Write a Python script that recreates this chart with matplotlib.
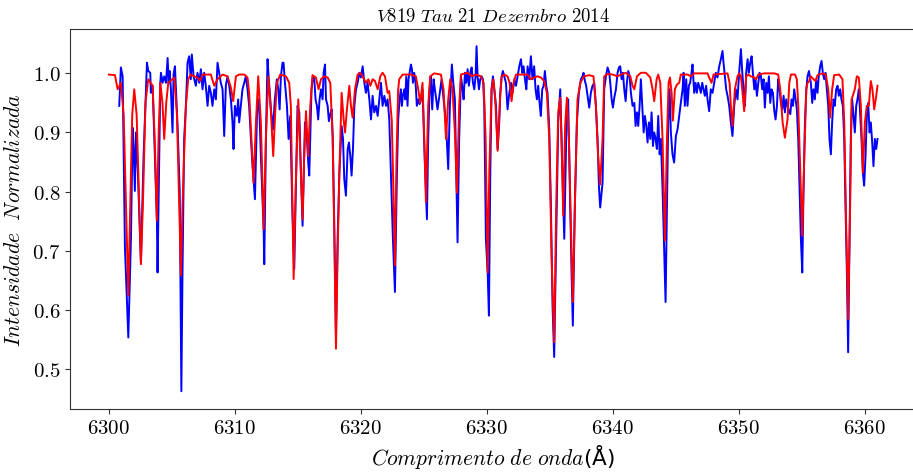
import matplotlib.pyplot as plt

# Espectro observado (azul)
obs_wl = [
    6300.82, 6300.95, 6301.09, 6301.27, 6301.54, 6301.75, 6301.88, 6301.96, 6302.06, 6302.14,
    6302.30, 6302.54, 6302.75, 6302.94, 6303.02, 6303.12, 6303.28, 6303.33, 6303.47, 6303.81,
    6303.86, 6304.08, 6304.13, 6304.26, 6304.39, 6304.53, 6304.66, 6304.74, 6304.82, 6304.92,
    6305.05, 6305.13, 6305.24, 6305.45, 6305.62, 6305.75, 6305.84, 6305.97, 6306.11, 6306.24,
    6306.37, 6306.50, 6306.58, 6306.72, 6306.90, 6307.03, 6307.17, 6307.30, 6307.43, 6307.56,
    6307.69, 6307.83, 6307.96, 6308.09, 6308.22, 6308.36, 6308.49, 6308.62, 6308.75, 6308.88,
    6309.02, 6309.15, 6309.28, 6309.41, 6309.55, 6309.68, 6309.81, 6309.89, 6310.00, 6310.15,
    6310.26, 6310.34, 6310.47, 6310.60, 6310.74, 6310.87, 6311.00, 6311.13,
    6311.27, 6311.40, 6311.59, 6311.75, 6311.85, 6311.93, 6312.06, 6312.28, 6312.33, 6312.46,
    6312.59, 6312.67, 6312.75, 6312.86, 6313.02, 6313.17, 6313.33, 6313.44, 6313.55, 6313.65,
    6313.78, 6313.86, 6313.97, 6314.13, 6314.26, 6314.39, 6314.55, 6314.71, 6314.97, 6315.11,
    6315.24, 6315.37, 6315.56, 6315.69, 6315.82, 6315.90, 6316.08, 6316.19, 6316.30, 6316.40,
    6316.51, 6316.61, 6316.72,
    6316.83, 6316.96, 6317.04, 6317.15, 6317.23, 6317.36, 6317.46, 6317.57, 6317.68, 6317.76,
    6317.89, 6318.02, 6318.15, 6318.29, 6318.47, 6318.58, 6318.68, 6318.81, 6318.95, 6319.05,
    6319.16, 6319.26, 6319.37, 6319.48, 6319.61, 6319.74, 6319.87, 6320.00, 6320.14, 6320.27,
    6320.40, 6320.53, 6320.67, 6320.80, 6320.93, 6321.06, 6321.20, 6321.33, 6321.46, 6321.59,
    6321.72, 6321.86, 6321.99, 6322.12, 6322.25,
    6322.38, 6322.54, 6322.70, 6322.86, 6322.96, 6323.07, 6323.17, 6323.25, 6323.33, 6323.44,
    6323.52, 6323.60, 6323.70, 6323.78, 6323.86, 6323.97, 6324.05, 6324.13, 6324.23, 6324.34,
    6324.44, 6324.55, 6324.66, 6324.76, 6324.89, 6325.03, 6325.24, 6325.34, 6325.45, 6325.55,
    6325.66, 6325.77, 6325.87, 6325.98, 6326.08, 6326.19, 6326.30, 6326.40, 6326.56, 6326.75,
    6326.93, 6327.06, 6327.22, 6327.33, 6327.46, 6327.57, 6327.67, 6327.80,
    6327.94, 6328.07, 6328.15, 6328.26, 6328.36, 6328.47, 6328.57, 6328.68, 6328.79, 6328.89,
    6329.00, 6329.10, 6329.18, 6329.26, 6329.37, 6329.47, 6329.58, 6329.69, 6329.79, 6329.92,
    6330.06, 6330.16, 6330.27, 6330.37, 6330.48, 6330.59, 6330.72, 6330.85, 6330.98, 6331.06,
    6331.17, 6331.27, 6331.38, 6331.51, 6331.64, 6331.78, 6331.91, 6332.04, 6332.17, 6332.31,
    6332.44, 6332.57, 6332.70, 6332.81, 6332.91, 6333.02, 6333.13, 6333.23, 6333.36,
    6333.49, 6333.62, 6333.75, 6333.86, 6333.97, 6334.07, 6334.18, 6334.28, 6334.39, 6334.50,
    6334.60, 6334.71, 6334.81, 6334.95, 6335.08, 6335.21, 6335.34, 6335.50, 6335.66, 6335.82,
    6335.92, 6336.03, 6336.14, 6336.24, 6336.35, 6336.45, 6336.61, 6336.72, 6336.82, 6336.98,
    6337.14, 6337.30, 6337.46, 6337.59, 6337.67, 6337.78, 6337.88, 6337.99, 6338.12, 6338.25,
    6338.38, 6338.52, 6338.65, 6338.78, 6338.89, 6338.99,
    6339.18, 6339.31, 6339.45, 6339.58, 6339.71, 6339.79, 6339.90, 6340.00, 6340.11, 6340.24,
    6340.37, 6340.48, 6340.58, 6340.69, 6340.80, 6340.90, 6341.01, 6341.11, 6341.22, 6341.33,
    6341.43, 6341.56, 6341.70, 6341.80, 6341.91, 6342.01, 6342.12, 6342.22, 6342.33, 6342.44,
    6342.54, 6342.65, 6342.75, 6342.86, 6342.97, 6343.07, 6343.18, 6343.28, 6343.39, 6343.49,
    6343.60, 6343.71, 6343.81, 6343.94, 6344.08, 6344.18, 6344.29, 6344.39, 6344.50,
    6344.60, 6344.73, 6344.86, 6345.00, 6345.13, 6345.26, 6345.39, 6345.53, 6345.61, 6345.71,
    6345.82, 6345.92, 6346.03, 6346.13, 6346.24, 6346.32, 6346.45, 6346.56, 6346.66, 6346.77,
    6346.88, 6346.98, 6347.09, 6347.19, 6347.30, 6347.40, 6347.51, 6347.64, 6347.77, 6347.91,
    6348.04, 6348.17, 6348.30, 6348.44, 6348.57, 6348.70, 6348.78, 6348.89, 6348.99, 6349.10,
    6349.23, 6349.36, 6349.49, 6349.63, 6349.76, 6349.89, 6350.02,
    6350.16, 6350.27, 6350.37, 6350.48, 6350.58, 6350.69, 6350.79, 6350.90, 6351.01, 6351.11,
    6351.22, 6351.32, 6351.43, 6351.54, 6351.64, 6351.75, 6351.85, 6351.96, 6352.06, 6352.17,
    6352.28, 6352.38, 6352.49, 6352.59, 6352.70, 6352.81, 6352.91, 6353.02, 6353.12, 6353.23,
    6353.33, 6353.44, 6353.55, 6353.65, 6353.76, 6353.86, 6353.97, 6354.08, 6354.18, 6354.29,
    6354.39, 6354.50, 6354.60, 6354.71, 6354.82, 6354.92, 6355.03, 6355.13, 6355.24, 6355.35,
    6355.45, 6355.56,
    6355.71, 6355.82, 6355.92, 6356.03, 6356.13, 6356.24, 6356.34, 6356.45, 6356.56, 6356.66,
    6356.77, 6356.87, 6356.98, 6357.09, 6357.19, 6357.30, 6357.40, 6357.51, 6357.61, 6357.72,
    6357.83, 6357.93, 6358.04, 6358.14, 6358.25, 6358.36, 6358.46, 6358.57, 6358.67, 6358.78,
    6358.88, 6358.99, 6359.10, 6359.20, 6359.31, 6359.41, 6359.52, 6359.63, 6359.73, 6359.84,
    6359.94, 6360.05, 6360.15, 6360.26, 6360.37, 6360.47, 6360.58, 6360.68, 6360.79, 6360.90,
    6361.00,
]
obs_flux = [
    0.945, 1.010, 0.995, 0.706, 0.553, 0.720, 0.908, 0.872, 0.801, 0.900,
    0.830, 0.680, 0.860, 0.973, 1.018, 1.004, 1.001, 0.967, 0.979, 0.751,
    0.663, 0.984, 1.001, 0.984, 0.995, 0.984, 1.026, 0.984, 1.004, 0.973,
    0.900, 0.998, 1.012, 0.911, 0.800, 0.462, 0.663, 0.889, 0.945, 1.018,
    1.029, 0.990, 1.032, 0.995, 0.979, 1.001, 0.984, 1.007, 0.973, 1.001,
    0.979, 0.945, 0.979, 0.967, 0.945, 0.973, 0.956, 1.018, 1.001, 0.984,
    0.973, 0.894, 0.979, 0.995, 0.979, 0.956, 0.917, 0.872, 0.945, 0.928,
    0.956, 0.917, 0.945, 0.973, 0.984, 0.995, 0.973, 0.945,
    0.889, 0.843, 0.787, 0.928, 0.956, 0.945, 0.860, 0.736, 0.677, 0.889,
    1.024, 0.995, 0.973, 0.939, 0.905, 0.956, 0.990, 0.973, 0.939, 0.995,
    1.018, 1.018, 0.984, 0.945, 0.889, 0.928, 0.776, 0.669, 0.945, 0.934,
    0.832, 0.742, 0.917, 0.900, 0.849, 0.827, 0.973, 0.995, 0.990, 0.956,
    0.945, 0.922, 0.956,
    0.973, 0.956, 1.001, 1.015, 0.956, 0.945, 0.919, 0.931, 0.939, 0.894,
    0.742, 0.555, 0.720, 0.832, 0.911, 0.889, 0.821, 0.793, 0.872, 0.883,
    0.860, 0.827, 0.872, 0.945, 0.973, 0.984, 1.001, 0.993, 1.012, 0.984,
    0.967, 0.984, 0.956, 0.922, 0.962, 0.934, 0.945, 0.928, 0.956, 0.984,
    0.945, 0.962, 0.945, 0.956, 0.922,
    0.832, 0.720, 0.630, 0.832, 0.922, 0.956, 0.973, 0.945, 0.962, 0.973,
    0.956, 0.995, 0.945, 0.990, 1.001, 1.015, 1.007, 0.984, 1.001, 0.984,
    0.945, 0.956, 0.948, 0.956, 0.973, 0.877, 0.753, 0.889, 0.973, 0.995,
    0.939, 0.990, 0.973, 0.956, 0.939, 0.956, 0.973, 0.990, 0.956, 0.917,
    0.838, 0.945, 1.015, 0.984, 0.956, 0.832, 0.714, 0.889,
    0.995, 0.973, 0.956, 1.001, 0.984, 1.007, 0.979, 1.001, 1.010, 0.984,
    0.973, 0.995, 1.046, 0.995, 0.973, 0.990, 0.995, 0.990, 0.945, 0.720,
    0.663, 0.590, 0.832, 0.973, 0.995, 0.973, 0.945, 0.872, 0.917, 0.967,
    0.995, 1.004, 0.995, 0.984, 0.939, 0.967, 0.984, 0.967, 0.990, 0.979,
    0.995, 1.012, 1.024, 1.001, 1.012, 0.990, 0.973, 1.012, 0.990,
    1.029, 0.990, 1.012, 0.973, 0.956, 0.979, 0.950, 0.928, 0.973, 0.979,
    1.004, 0.979, 0.967, 0.905, 0.776, 0.607, 0.520, 0.720, 0.917, 0.973,
    0.889, 0.804, 0.720, 0.832, 0.945, 0.956, 0.776, 0.663, 0.573, 0.776,
    0.917, 0.967, 0.990, 0.995, 1.001, 0.987, 0.979, 0.962, 0.942, 0.967,
    0.979, 0.984, 0.945, 0.889, 0.810, 0.773,
    0.815, 0.973, 0.995, 1.010, 1.001, 0.984, 0.956, 0.942, 0.959, 0.973,
    1.001, 1.010, 1.012, 0.990, 1.001, 0.973, 0.953, 0.984, 1.004, 0.995,
    0.967, 0.945, 0.950, 0.911, 0.934, 0.911, 0.945, 0.990, 0.945, 0.900,
    0.928, 0.911, 0.883, 0.917, 0.889, 0.934, 0.877, 0.900, 0.889, 0.872,
    0.928, 0.863, 0.889, 0.804, 0.691, 0.613, 0.776, 0.917, 0.973,
    0.900, 0.863, 0.849, 0.894, 0.905, 0.928, 0.950, 0.973, 1.001, 0.945,
    0.990, 0.945, 0.979, 0.984, 1.001, 1.015, 0.967, 0.984, 0.967, 0.984,
    0.976, 0.967, 0.984, 0.973, 0.962, 0.979, 0.956, 0.936, 0.973, 0.967,
    0.984, 1.001, 0.993, 1.012, 1.024, 1.038, 1.018, 0.995, 0.973, 0.962,
    0.945, 0.917, 0.894, 0.945, 0.973, 0.956, 1.001,
    1.041, 1.001, 0.973, 0.945, 1.001, 1.024, 1.001, 1.018, 1.029, 1.001,
    0.973, 0.990, 0.962, 0.984, 1.001, 0.995, 0.973, 0.990, 0.942, 0.984,
    0.967, 0.995, 0.950, 0.973, 0.967, 0.936, 0.922, 0.945, 0.990, 0.973,
    0.950, 0.939, 0.962, 0.934, 0.956, 0.945, 0.936, 0.931, 0.956, 0.945,
    0.973, 0.956, 0.939, 0.889, 0.804, 0.720, 0.663, 0.804, 0.917, 0.973,
    0.995, 1.004,
    0.984, 0.950, 0.973, 0.956, 0.990, 0.967, 0.995, 1.012, 1.021, 1.001,
    0.990, 1.001, 0.973, 0.945, 0.889, 0.863, 0.917, 0.956, 0.945, 0.973,
    0.979, 0.962, 0.973, 0.956, 0.945, 0.889, 0.776, 0.663, 0.528, 0.720,
    0.889, 0.956, 0.928, 0.900, 0.945, 0.956, 0.973, 0.928, 0.889, 0.832,
    0.810, 0.860, 0.928, 0.950, 0.900, 0.917, 0.883, 0.843, 0.889, 0.872,
    0.889,
]

# Espectro sintético (vermelho)
syn_wl = [
    6300.00, 6300.48, 6300.69, 6300.95, 6301.17, 6301.35, 6301.54, 6301.70, 6301.85, 6302.01,
    6302.20, 6302.40, 6302.54, 6302.70, 6302.90, 6303.12, 6303.47, 6303.65, 6303.80, 6303.95,
    6304.08, 6304.25, 6304.39, 6304.55, 6304.71, 6305.19, 6305.40, 6305.58, 6305.72, 6305.84,
    6305.97, 6306.11, 6306.29, 6306.50, 6306.77, 6307.03, 6307.24, 6307.43, 6308.09, 6308.36,
    6308.62, 6309.02, 6309.41, 6309.68, 6309.86, 6310.08, 6310.34, 6310.74, 6311.00, 6311.13,
    6311.27, 6311.48, 6311.67, 6311.85, 6312.06, 6312.28, 6312.46, 6312.65, 6312.86, 6313.04,
    6313.20, 6313.33, 6313.60, 6314.05, 6314.31, 6314.44, 6314.55, 6314.66, 6314.82, 6315.03,
    6315.19, 6315.37, 6315.50, 6315.64, 6315.82, 6315.98, 6316.16, 6316.43, 6316.64,
    6316.83, 6317.09, 6317.36, 6317.57, 6317.76, 6317.89, 6318.02, 6318.15, 6318.29, 6318.47,
    6318.63, 6318.74, 6318.89, 6319.08, 6319.21, 6319.34, 6319.53, 6319.74, 6319.95, 6320.14,
    6320.40, 6320.59, 6320.75, 6320.93, 6321.12, 6321.33, 6321.54, 6321.72, 6321.91, 6322.12,
    6322.25, 6322.45, 6322.58, 6322.70, 6322.82, 6322.95, 6323.04, 6323.31, 6323.97, 6324.36,
    6324.55, 6324.71, 6324.89, 6325.03, 6325.16, 6325.34, 6325.50, 6325.82, 6326.35, 6326.56,
    6326.75, 6326.93, 6327.09, 6327.27, 6327.46, 6327.62, 6327.80,
    6327.94, 6328.47, 6328.79, 6329.13, 6329.53, 6329.74, 6329.90, 6330.06, 6330.19, 6330.37,
    6330.51, 6330.66, 6330.85, 6331.04, 6331.17, 6331.38, 6331.64, 6331.80, 6331.96, 6332.12,
    6332.31, 6333.23, 6333.49, 6333.75, 6334.02, 6334.28, 6334.55, 6334.76, 6334.95, 6335.13,
    6335.34, 6335.50, 6335.66, 6335.82, 6335.92, 6336.06, 6336.21, 6336.35, 6336.51, 6336.66,
    6336.82, 6337.01, 6337.19, 6337.41, 6337.72, 6338.12, 6338.46, 6338.65, 6338.83, 6338.99,
    6339.18, 6339.31, 6339.58, 6339.98, 6340.37, 6340.64, 6341.03, 6341.38, 6341.56, 6341.70,
    6341.91, 6342.22, 6342.62, 6342.97, 6343.15, 6343.28, 6343.47, 6343.60, 6343.76, 6343.94,
    6344.13, 6344.29, 6344.42, 6344.53, 6344.66, 6344.76, 6344.92, 6345.08, 6345.26, 6345.39,
    6345.92, 6346.19, 6346.45, 6347.51, 6347.64, 6347.83, 6347.99, 6349.10, 6349.26, 6349.36,
    6349.49, 6349.68, 6349.89, 6350.02, 6350.16, 6350.29, 6350.42, 6350.58, 6350.74, 6350.95,
    6351.22, 6351.35, 6351.54, 6352.01, 6352.81, 6353.12, 6353.28, 6353.47, 6353.65, 6353.86,
    6354.00, 6354.13, 6354.45, 6354.60, 6354.71, 6354.87, 6355.03, 6355.19, 6355.35, 6355.45,
    6355.58, 6355.71, 6355.92, 6356.08, 6356.24, 6356.64, 6356.90, 6357.09, 6357.24, 6357.40,
    6357.56, 6357.96, 6358.22, 6358.36, 6358.51, 6358.67, 6358.83, 6358.94, 6359.04, 6359.20,
    6359.36, 6359.52, 6359.68, 6359.84, 6360.00, 6360.15, 6360.31, 6360.47, 6360.60, 6360.74,
    6360.90, 6361.00,
]
syn_flux = [
    0.998, 0.997, 0.973, 0.984, 0.930, 0.780, 0.624, 0.780, 0.930, 0.973,
    0.930, 0.780, 0.677, 0.780, 0.950, 0.990, 0.979, 0.880, 0.751, 0.900,
    0.984, 0.950, 0.889, 0.950, 0.984, 0.993, 0.930, 0.780, 0.658, 0.776,
    0.863, 0.945, 0.990, 0.998, 0.995, 0.993, 0.987, 0.998, 0.998, 0.979,
    0.990, 0.998, 0.995, 0.976, 0.953, 0.995, 0.998, 0.998, 0.993, 0.967,
    0.905, 0.815, 0.917, 0.995, 0.917, 0.736, 0.889, 0.995, 0.934, 0.860,
    0.934, 0.984, 0.998, 0.995, 0.984, 0.945, 0.804, 0.652, 0.804, 0.956,
    0.860, 0.753, 0.860, 0.936, 0.860, 0.945, 0.997, 0.993, 0.973,
    0.990, 0.995, 0.993, 0.984, 0.889, 0.720, 0.534, 0.691, 0.832, 0.967,
    0.922, 0.900, 0.939, 0.979, 0.945, 0.925, 0.973, 0.998, 1.001, 0.995,
    0.984, 0.990, 0.979, 0.990, 0.987, 0.973, 0.995, 1.001, 0.995, 0.967,
    0.970, 0.920, 0.800, 0.675, 0.850, 0.970, 0.990, 0.998, 0.998, 0.995,
    0.973, 0.950, 0.984, 0.889, 0.782, 0.945, 0.995, 1.000, 0.998, 0.973,
    0.889, 0.956, 0.990, 0.973, 0.900, 0.798, 0.945,
    0.998, 1.001, 0.995, 0.998, 0.995, 0.984, 0.889, 0.663, 0.832, 0.973,
    0.990, 0.956, 0.869, 0.956, 0.995, 0.998, 0.995, 0.984, 0.953, 0.984,
    0.998, 0.998, 0.990, 0.993, 0.995, 0.993, 0.987, 0.967, 0.889, 0.691,
    0.545, 0.776, 0.934, 0.959, 0.889, 0.759, 0.911, 0.959, 0.889, 0.748,
    0.613, 0.804, 0.956, 0.984, 0.995, 0.997, 0.995, 0.945, 0.860, 0.812,
    0.889, 0.995, 0.999, 0.998, 0.995, 0.998, 1.001, 0.995, 0.979, 0.973,
    0.995, 1.001, 1.001, 0.993, 0.973, 0.953, 0.990, 0.998, 0.984, 0.889,
    0.717, 0.889, 0.984, 0.993, 0.967, 0.920, 0.973, 0.981, 0.984, 0.998,
    0.998, 0.995, 1.000, 1.000, 0.993, 0.984, 0.998, 1.000, 0.984, 0.945,
    0.911, 0.973, 0.995, 1.000, 0.995, 0.967, 0.936, 0.995, 0.998, 0.995,
    0.993, 0.990, 0.998, 1.000, 1.000, 0.998, 0.973, 0.917, 0.891, 0.922,
    0.984, 0.998, 0.998, 0.990, 0.945, 0.832, 0.725, 0.860, 0.973, 0.984,
    0.987, 0.995, 0.990, 0.987, 0.997, 1.000, 0.998, 0.973, 0.925, 0.973,
    0.997, 0.998, 0.990, 0.917, 0.748, 0.584, 0.776, 0.956, 0.962, 0.973,
    0.995, 0.993, 0.945, 0.832, 0.917, 0.945, 0.945, 0.987, 0.973, 0.939,
    0.962, 0.979,
]

xticks = [6300, 6310, 6320, 6330, 6340, 6350, 6360]
yticks = [0.5, 0.6, 0.7, 0.8, 0.9, 1.0]

plt.rcParams['mathtext.fontset'] = 'cm'
plt.rcParams['font.family'] = ['cmr10', 'DejaVu Sans']
plt.rcParams['axes.formatter.use_mathtext'] = True

fig = plt.figure(figsize=(9.13, 4.77), dpi=100)
ax = fig.add_axes([0.0772, 0.1405, 0.926, 0.7965])

ax.plot(obs_wl, obs_flux, color='blue', linewidth=1.4)
ax.plot(syn_wl, syn_flux, color='red', linewidth=1.4)

ax.set_xlim(6296.95, 6364.05)
ax.set_ylim(0.432, 1.075)
ax.set_xticks(xticks)
ax.set_yticks(yticks)
ax.tick_params(labelsize=15, color='#333333')
for s in ax.spines.values():
    s.set_color('#333333')

ax.set_title(r'$V819\ Tau\ 21\ Dezembro\ 2014$', fontsize=13.5)
ax.set_xlabel(r'$Comprimento\ de\ onda$(Å)', fontsize=15.5, family='DejaVu Sans')
ax.set_ylabel(r'$Intensidade\ \ Normalizada$', fontsize=15.5, labelpad=6)

fig.savefig('out.png', dpi=100)
